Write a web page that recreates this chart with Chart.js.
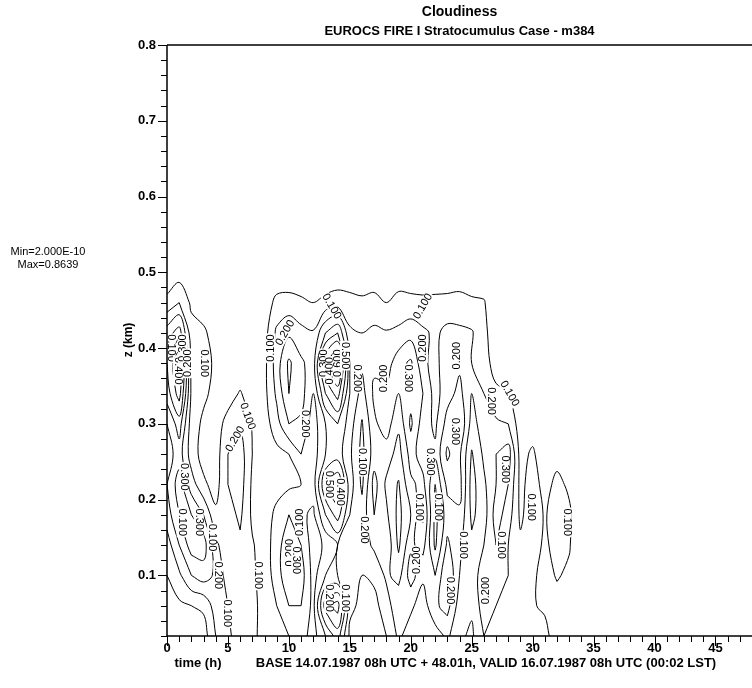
<!DOCTYPE html>
<html>
<head>
<meta charset="utf-8">
<script src="https://cdn.jsdelivr.net/npm/chart.js"></script>
<style>
  html, body { margin: 0; padding: 0; background: #fff; }
  #wrap { width: 752px; height: 688px; }
</style>
</head>
<body>
<div id="wrap"><canvas id="cloudChart" width="752" height="688"></canvas></div>
<script>
// time axis (h) and height axis (km) of the gridded field
const times = [0, 1, 2, 3, 4, 5, 6, 7, 8, 9, 10, 11, 12, 13, 14, 15, 16, 17,
               18, 19, 20, 21, 22, 23, 24, 25, 26, 27, 28, 29, 30, 31, 32, 33, 34];
const heights = [0.02, 0.06, 0.10, 0.14, 0.18, 0.22, 0.26, 0.30, 0.34, 0.38, 0.42, 0.46, 0.50];

// cloudiness profiles, one per hour, from bottom (0.02 km) to top (0.50 km)
const cloudProfiles = [
  [0.04, 0.06, 0.10, 0.15, 0.25, 0.30, 0.25, 0.30, 0.45, 0.50, 0.35, 0.13, 0.02], // 0
  [0.05, 0.08, 0.18, 0.30, 0.40, 0.45, 0.35, 0.45, 0.65, 0.70, 0.45, 0.20, 0.05], // 1
  [0.04, 0.10, 0.30, 0.45, 0.40, 0.25, 0.15, 0.15, 0.18, 0.16, 0.14, 0.08, 0.00], // 2
  [0.05, 0.12, 0.35, 0.45, 0.30, 0.12, 0.06, 0.08, 0.12, 0.14, 0.12, 0.04, 0.00], // 3
  [0.20, 0.25, 0.28, 0.22, 0.12, 0.06, 0.05, 0.05, 0.07, 0.08, 0.05, 0.00, 0.00], // 4
  [0.22, 0.20, 0.15, 0.14, 0.16, 0.20, 0.20, 0.14, 0.05, 0.02, 0.00, 0.00, 0.00], // 5
  [0.15, 0.14, 0.15, 0.18, 0.22, 0.25, 0.25, 0.18, 0.11, 0.02, 0.00, 0.00, 0.00], // 6
  [0.12, 0.13, 0.12, 0.11, 0.08, 0.08, 0.10, 0.09, 0.04, 0.00, 0.00, 0.00, 0.00], // 7
  [0.07, 0.06, 0.05, 0.05, 0.06, 0.05, 0.04, 0.05, 0.07, 0.07, 0.06, 0.04, 0.00], // 8
  [0.08, 0.10, 0.14, 0.15, 0.12, 0.07, 0.07, 0.16, 0.22, 0.25, 0.22, 0.13, 0.02], // 9
  [0.10, 0.20, 0.30, 0.28, 0.20, 0.08, 0.10, 0.30, 0.40, 0.42, 0.28, 0.14, 0.02], // 10
  [0.14, 0.20, 0.25, 0.20, 0.12, 0.10, 0.20, 0.28, 0.34, 0.32, 0.23, 0.12, 0.02], // 11
  [0.06, 0.07, 0.06, 0.05, 0.08, 0.15, 0.15, 0.15, 0.20, 0.25, 0.21, 0.10, 0.02], // 12
  [0.20, 0.45, 0.20, 0.12, 0.30, 0.50, 0.30, 0.30, 0.50, 0.70, 0.40, 0.13, 0.02], // 13
  [0.35, 0.55, 0.20, 0.20, 0.45, 0.60, 0.35, 0.40, 0.65, 0.86, 0.50, 0.15, 0.03], // 14
  [0.08, 0.12, 0.10, 0.12, 0.20, 0.25, 0.22, 0.25, 0.30, 0.30, 0.22, 0.13, 0.04], // 15
  [0.06, 0.08, 0.10, 0.15, 0.14, 0.08, 0.07, 0.09, 0.16, 0.22, 0.20, 0.12, 0.03], // 16
  [0.05, 0.07, 0.12, 0.22, 0.30, 0.34, 0.25, 0.28, 0.32, 0.28, 0.22, 0.14, 0.02], // 17
  [0.10, 0.15, 0.22, 0.28, 0.22, 0.18, 0.25, 0.35, 0.33, 0.25, 0.21, 0.10, 0.02], // 18
  [0.22, 0.28, 0.16, 0.08, 0.07, 0.09, 0.16, 0.22, 0.30, 0.36, 0.22, 0.14, 0.03], // 19
  [0.15, 0.22, 0.35, 0.28, 0.20, 0.28, 0.34, 0.42, 0.36, 0.42, 0.26, 0.13, 0.03], // 20
  [0.12, 0.15, 0.22, 0.34, 0.42, 0.33, 0.25, 0.25, 0.30, 0.22, 0.22, 0.12, 0.04], // 21
  [0.15, 0.28, 0.20, 0.08, 0.07, 0.10, 0.22, 0.18, 0.16, 0.17, 0.18, 0.13, 0.02], // 22
  [0.22, 0.34, 0.40, 0.32, 0.25, 0.33, 0.42, 0.34, 0.26, 0.26, 0.23, 0.13, 0.03], // 23
  [0.12, 0.15, 0.20, 0.22, 0.28, 0.34, 0.32, 0.40, 0.33, 0.28, 0.22, 0.14, 0.03], // 24
  [0.08, 0.12, 0.15, 0.12, 0.08, 0.06, 0.09, 0.16, 0.20, 0.20, 0.21, 0.12, 0.02], // 25
  [0.20, 0.25, 0.25, 0.20, 0.15, 0.18, 0.22, 0.25, 0.20, 0.14, 0.13, 0.11, 0.02], // 26
  [0.15, 0.20, 0.25, 0.30, 0.35, 0.30, 0.30, 0.22, 0.12, 0.06, 0.03, 0.01, 0.00], // 27
  [0.12, 0.18, 0.20, 0.20, 0.25, 0.30, 0.35, 0.20, 0.11, 0.03, 0.00, 0.00, 0.00], // 28
  [0.15, 0.18, 0.15, 0.12, 0.08, 0.07, 0.06, 0.04, 0.02, 0.00, 0.00, 0.00, 0.00], // 29
  [0.12, 0.11, 0.12, 0.15, 0.16, 0.15, 0.12, 0.04, 0.00, 0.00, 0.00, 0.00, 0.00], // 30
  [0.14, 0.08, 0.06, 0.08, 0.09, 0.06, 0.02, 0.00, 0.00, 0.00, 0.00, 0.00, 0.00], // 31
  [0.03, 0.06, 0.11, 0.14, 0.15, 0.13, 0.06, 0.00, 0.00, 0.00, 0.00, 0.00, 0.00], // 32
  [0.00, 0.03, 0.08, 0.11, 0.12, 0.08, 0.02, 0.00, 0.00, 0.00, 0.00, 0.00, 0.00], // 33
  [0.00, 0.00, 0.00, 0.00, 0.00, 0.00, 0.00, 0.00, 0.00, 0.00, 0.00, 0.00, 0.00]  // 34
];

const contourLevels = [0.1, 0.2, 0.3, 0.4, 0.5, 0.6, 0.7, 0.8];

const xTicks = [0, 5, 10, 15, 20, 25, 30, 35, 40, 45];
const yTicks = [0.1, 0.2, 0.3, 0.4, 0.5, 0.6, 0.7, 0.8];

// contour labels: [time, height, text, rotation in degrees]
const contourLabels = [
  [0.3, 0.40, '0.100', 90], [0.9, 0.37, '0.400', 90], [1.3, 0.40, '0.300', -90],
  [1.7, 0.38, '0.200', -90], [3.0, 0.38, '0.100', 90], [1.4, 0.23, '0.300', 90],
  [1.2, 0.17, '0.100', 90], [2.6, 0.17, '0.300', 90], [3.7, 0.15, '0.100', 90],
  [4.2, 0.10, '0.200', 90], [4.9, 0.05, '0.100', 90], [6.6, 0.31, '0.100', 70],
  [5.6, 0.28, '0.200', -60], [7.5, 0.10, '0.100', 90], [8.5, 0.40, '0.100', -90],
  [9.7, 0.42, '0.200', -60], [11.3, 0.30, '0.200', 90], [10.9, 0.17, '0.100', -90],
  [10.1, 0.13, '0.200', -90], [10.6, 0.12, '0.300', 90], [12.9, 0.38, '0.300', -90],
  [13.4, 0.37, '0.400', -90], [14.0, 0.38, '0.600', -90], [14.6, 0.39, '0.500', 90],
  [13.5, 0.455, '0.100', 60], [13.3, 0.22, '0.500', 90], [14.2, 0.21, '0.400', 90],
  [13.3, 0.07, '0.200', 90], [14.6, 0.07, '0.100', 90], [15.6, 0.36, '0.200', 90],
  [17.8, 0.36, '0.200', -90], [16.0, 0.25, '0.100', 90], [16.2, 0.16, '0.200', 90],
  [19.8, 0.36, '0.300', 90], [21.0, 0.455, '0.100', -60], [21.0, 0.40, '0.200', -90],
  [23.8, 0.39, '0.200', -90], [23.6, 0.29, '0.300', 90], [21.6, 0.25, '0.300', 90],
  [20.7, 0.19, '0.100', 90], [20.5, 0.12, '0.200', -90], [22.2, 0.19, '0.100', 90],
  [24.3, 0.14, '0.100', 90], [23.2, 0.08, '0.200', 90], [26.6, 0.33, '0.200', 90],
  [28.1, 0.34, '0.100', 60], [27.7, 0.24, '0.300', 90], [27.4, 0.14, '0.100', 90],
  [26.2, 0.08, '0.200', -90], [29.9, 0.19, '0.100', 90], [32.8, 0.17, '0.100', 90]
];

const FONT = '"Liberation Sans", Arial, Helvetica, sans-serif';

// marching squares on the profile grid, segments chained into paths
function buildContours(level) {
  const nz = heights.length, nt = times.length;
  const val = (i, j) => cloudProfiles[j][i];
  const points = {};
  const segs = [];
  const cross = (key, za, ta, va, zb, tb, vb) => {
    if ((va >= level) === (vb >= level)) return null;
    if (!points[key]) {
      const f = (level - va) / (vb - va);
      points[key] = { x: ta + f * (tb - ta), y: za + f * (zb - za) };
    }
    return key;
  };
  for (let i = 0; i < nz - 1; i++) {
    for (let j = 0; j < nt - 1; j++) {
      const v00 = val(i, j), v01 = val(i, j + 1), v10 = val(i + 1, j), v11 = val(i + 1, j + 1);
      const z0 = heights[i], z1 = heights[i + 1], t0 = times[j], t1 = times[j + 1];
      const bottom = cross('h' + i + '_' + j, z0, t0, v00, z0, t1, v01);
      const right = cross('v' + i + '_' + (j + 1), z0, t1, v01, z1, t1, v11);
      const top = cross('h' + (i + 1) + '_' + j, z1, t0, v10, z1, t1, v11);
      const left = cross('v' + i + '_' + j, z0, t0, v00, z1, t0, v10);
      const hits = [bottom, right, top, left].filter(k => k !== null);
      if (hits.length === 2) {
        segs.push(hits);
      } else if (hits.length === 4) {
        const centre = (v00 + v01 + v10 + v11) / 4;
        if ((v00 >= level) === (centre >= level)) {
          segs.push([bottom, right], [top, left]);
        } else {
          segs.push([bottom, left], [right, top]);
        }
      }
    }
  }
  const byKey = {};
  segs.forEach((s, n) => {
    (byKey[s[0]] = byKey[s[0]] || []).push(n);
    (byKey[s[1]] = byKey[s[1]] || []).push(n);
  });
  const used = segs.map(() => false);
  const extend = chain => {
    for (;;) {
      const last = chain[chain.length - 1];
      const next = (byKey[last] || []).find(m => !used[m]);
      if (next === undefined) break;
      used[next] = true;
      const s = segs[next];
      chain.push(s[0] === last ? s[1] : s[0]);
    }
  };
  const paths = [];
  for (let n = 0; n < segs.length; n++) {
    if (used[n]) continue;
    used[n] = true;
    const chain = [segs[n][0], segs[n][1]];
    extend(chain);
    chain.reverse();
    extend(chain);
    paths.push(chain.map(k => points[k]));
  }
  return paths;
}

const datasets = [];
contourLevels.forEach(level => {
  buildContours(level).forEach(path => {
    datasets.push({
      data: path,
      borderColor: '#000',
      borderWidth: 1,
      pointRadius: 0,
      fill: false,
      tension: 0.35
    });
  });
});

// contour labels on a white patch
const labelPlugin = {
  id: 'contourLabels',
  afterDatasetsDraw(chart) {
    const { ctx, chartArea, scales } = chart;
    ctx.save();
    ctx.beginPath();
    ctx.rect(chartArea.left, chartArea.top, chartArea.right - chartArea.left, chartArea.bottom - chartArea.top);
    ctx.clip();
    ctx.font = '11px ' + FONT;
    ctx.textAlign = 'center';
    ctx.textBaseline = 'middle';
    contourLabels.forEach(([t, z, text, rot]) => {
      const px = scales.x.getPixelForValue(t);
      const py = scales.y.getPixelForValue(z);
      const w = ctx.measureText(text).width;
      ctx.save();
      ctx.translate(px, py);
      ctx.rotate(rot * Math.PI / 180);
      ctx.fillStyle = '#fff';
      ctx.fillRect(-w / 2 - 1, -5, w + 2, 10);
      ctx.fillStyle = '#000';
      ctx.fillText(text, 0, 0);
      ctx.restore();
    });
    ctx.restore();
  }
};

// axis frame, tick marks and free texts
const framePlugin = {
  id: 'frame',
  afterDraw(chart) {
    const { ctx, chartArea: a, scales } = chart;
    ctx.save();
    ctx.strokeStyle = '#000';
    ctx.lineWidth = 1.5;
    ctx.beginPath();
    ctx.moveTo(a.left, a.top);
    ctx.lineTo(a.right, a.top);
    ctx.moveTo(a.left, a.top);
    ctx.lineTo(a.left, a.bottom);
    ctx.lineTo(a.right, a.bottom);
    ctx.stroke();

    ctx.lineWidth = 1;
    ctx.beginPath();
    for (let h = 0; h <= 48; h++) {
      const px = Math.round(scales.x.getPixelForValue(h)) + 0.5;
      const len = h % 5 === 0 ? 10 : 6;
      ctx.moveTo(px, a.bottom);
      ctx.lineTo(px, a.bottom + len);
    }
    for (let k = 1; k <= 40; k++) {
      const py = Math.round(scales.y.getPixelForValue(k * 0.02)) + 0.5;
      const len = k % 5 === 0 ? 9 : 6;
      ctx.moveTo(a.left, py);
      ctx.lineTo(a.left - len, py);
    }
    ctx.stroke();

    ctx.fillStyle = '#000';
    ctx.textAlign = 'center';
    ctx.textBaseline = 'middle';
    const cx = (a.left + a.right) / 2;
    ctx.font = 'bold 14px ' + FONT;
    ctx.fillText('Cloudiness', cx, 12);
    ctx.font = 'bold 13px ' + FONT;
    ctx.fillText('EUROCS FIRE I Stratocumulus Case - m384', cx, 31);

    ctx.font = '11px ' + FONT;
    ctx.fillText('Min=2.000E-10', 48, 252);
    ctx.fillText('Max=0.8639', 48, 265);

    ctx.font = 'bold 13px ' + FONT;
    ctx.fillText('time (h)', 198, 663);
    ctx.fillText('BASE 14.07.1987 08h UTC + 48.01h, VALID 16.07.1987 08h UTC (00:02 LST)', 486, 663);

    ctx.font = 'bold 12px ' + FONT;
    ctx.save();
    ctx.translate(129, 340);
    ctx.rotate(-Math.PI / 2);
    ctx.fillText('z (km)', 0, 0);
    ctx.restore();
    ctx.restore();
  }
};

new Chart(document.getElementById('cloudChart').getContext('2d'), {
  type: 'line',
  data: { datasets },
  options: {
    responsive: false,
    animation: false,
    layout: { padding: { left: 0, right: 0, top: 45, bottom: 0 } },
    plugins: { legend: { display: false }, tooltip: { enabled: false } },
    scales: {
      x: {
        type: 'linear',
        min: 0,
        max: 48,
        afterBuildTicks: s => { s.ticks = xTicks.map(v => ({ value: v })); },
        afterFit: s => { s.height = 52; },
        grid: { display: false, drawTicks: false },
        border: { display: false },
        ticks: {
          color: '#000',
          padding: 5,
          maxRotation: 0,
          autoSkip: false,
          font: { family: FONT, size: 13, weight: 'bold' },
          callback: v => String(v)
        }
      },
      y: {
        type: 'linear',
        min: 0.02,
        max: 0.8,
        afterBuildTicks: s => { s.ticks = yTicks.map(v => ({ value: v })); },
        afterFit: s => { s.width = 167; },
        grid: { display: false, drawTicks: false },
        border: { display: false },
        ticks: {
          color: '#000',
          padding: 11,
          autoSkip: false,
          font: { family: FONT, size: 13, weight: 'bold' },
          callback: v => v.toFixed(1)
        }
      }
    }
  },
  plugins: [labelPlugin, framePlugin]
});
</script>
</body>
</html>
